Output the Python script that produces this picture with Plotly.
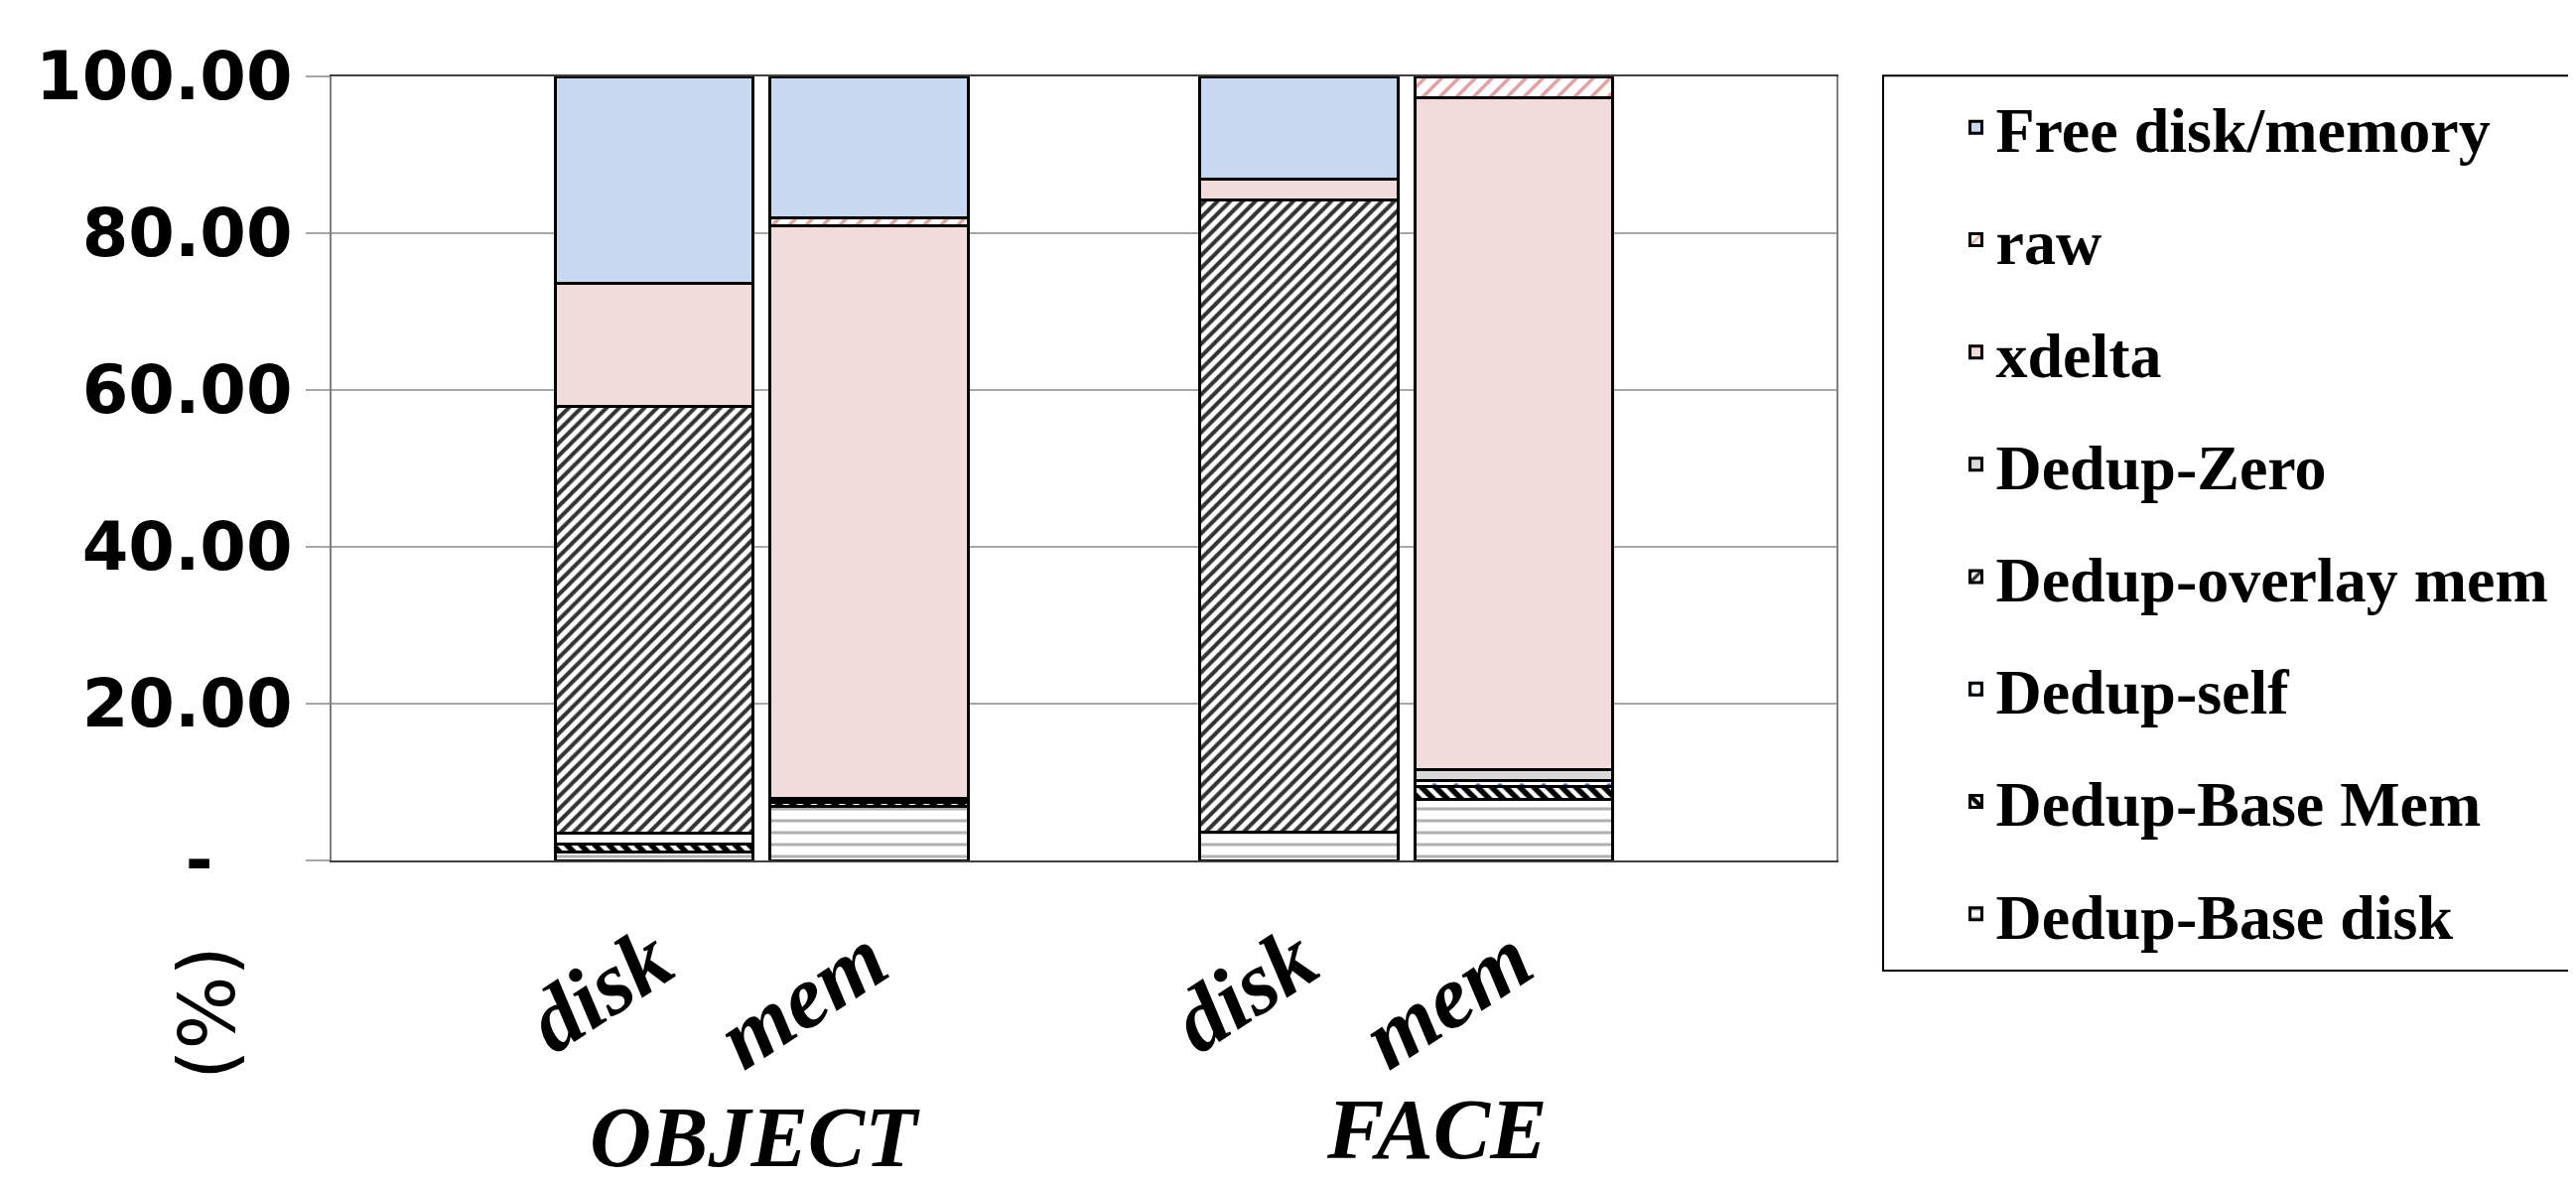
import plotly.graph_objects as go

# ---------------- data ----------------
groups = ["OBJECT", "FACE"]
subcats = ["disk", "mem"]
categories = ["disk", "mem", "disk", "mem"]

series_names = ["Dedup-Base disk", "Dedup-Base Mem", "Dedup-self", "Dedup-overlay mem",
                "Dedup-Zero", "xdelta", "raw", "Free disk/memory"]
# values per bar: OBJECT-disk, OBJECT-mem, FACE-disk, FACE-mem
base_disk   = [1.1, 6.95, 3.6, 7.8]
base_mem    = [1.0, 0.4, 0.0, 1.6]
dedup_self  = [1.4, 0.3, 0.0, 0.75]
overlay_mem = [54.4, 0.0, 80.6, 0.0]
dedup_zero  = [0.0, 0.2, 0.0, 1.45]
xdelta      = [15.7, 73.05, 2.7, 85.7]
raw         = [0.0, 1.1, 0.0, 2.7]
free        = [26.4, 18.0, 13.1, 0.0]
series_values = [base_disk, base_mem, dedup_self, overlay_mem, dedup_zero, xdelta, raw, free]

y_tickvals = [0, 20, 40, 60, 80, 100]
y_ticktext = ["-\u2002\u00a0\u00a0", "20.00", "40.00", "60.00", "80.00", "100.00"]

# ---------------- styles ----------------
styles = {
    "Dedup-Base disk":   dict(shape="-", fg="#B0B0B0", bg="white", size=12, sol=0.25),
    "Dedup-Base Mem":    dict(shape="\\", fg="#000000", bg="white", size=10, sol=0.55),
    "Dedup-self":        dict(shape=".", fg="#4472C4", bg="white", size=22, sol=0.05),
    "Dedup-overlay mem": dict(shape="/", fg="#333333", bg="white", size=9, sol=0.45),
    "Dedup-Zero":        dict(shape="", fg=None, bg="#D9D9D9", size=8, sol=0.3),
    "xdelta":            dict(shape="", fg=None, bg="#F2DCDB", size=8, sol=0.3),
    "raw":               dict(shape="/", fg="#E6A0A0", bg="white", size=12, sol=0.3),
    "Free disk/memory":  dict(shape="", fg=None, bg="#C6D9F0", size=8, sol=0.3),
}

# slot positions: empty slot between groups, like the category axis of the original
x_pos = []
for gi, g in enumerate(groups):
    for si, s in enumerate(subcats):
        x_pos.append(1 + gi * (len(subcats) + 1) + si)

fig = go.Figure()
n = len(series_names)
for i, (name, vals) in enumerate(zip(series_names, series_values)):
    st = styles[name]
    if st["shape"]:
        marker = dict(color=st["bg"],
                      pattern=dict(shape=st["shape"], fgcolor=st["fg"], bgcolor=st["bg"],
                                   size=st["size"], solidity=st["sol"], fillmode="replace"),
                      line=dict(color="black", width=3))
    else:
        marker = dict(color=st["bg"], line=dict(color="black", width=3))
    fig.add_trace(go.Bar(x=x_pos, y=vals, name=name, marker=marker, width=0.92,
                         legendgroup=name, legendrank=n - i))

serif = "Liberation Serif"
fig.update_layout(
    width=2595, height=1191,
    barmode="stack",
    plot_bgcolor="white", paper_bgcolor="white",
    margin=dict(l=326, r=753, t=69, b=332),
    xaxis=dict(range=[-0.5, 6.5], tickvals=x_pos, ticktext=categories,
               tickangle=-33, ticks="", showgrid=False,
               tickfont=dict(family=serif, size=90, color="black", weight="bold", style="italic"),
               showline=True, linecolor="#404040", linewidth=2, mirror=True,
               ticklabelstandoff=12),
    yaxis=dict(range=[0, 100], tickvals=y_tickvals, ticktext=y_ticktext,
               tickfont=dict(family="DejaVu Sans", size=67, color="black", weight="bold"),
               showgrid=True, gridcolor="#A6A6A6", gridwidth=2,
               ticks="outside", ticklen=24, tickcolor="#A6A6A6", tickwidth=2,
               showline=True, linecolor="#808080", linewidth=2, mirror=True,
               zeroline=False),
    legend=dict(x=1.03, y=0.996, xanchor="left", yanchor="top",
                traceorder="grouped", tracegroupgap=27,
                font=dict(family=serif, size=64, color="black", weight="bold"),
                borderwidth=0, bgcolor="rgba(0,0,0,0)",
                indentation=75, maxheight=1000),
    showlegend=True,
)

# legend frame (extends past the right edge, as in the original)
fig.add_shape(type="rect", xref="paper", yref="paper",
              x0=1.031, x1=1.52, y0=-0.1405, y1=1.001,
              line=dict(color="black", width=2), fillcolor="rgba(0,0,0,0)", layer="above")

# group labels
label_y = {"OBJECT": -0.353, "FACE": -0.343}
label_dx = {"OBJECT": -0.03, "FACE": 0.14}
for gi, g in enumerate(groups):
    cx = (x_pos[gi * 2] + x_pos[gi * 2 + 1]) / 2 + label_dx[g]
    fig.add_annotation(x=cx, y=label_y[g], xref="x", yref="paper",
                       xanchor="center", yanchor="middle",
                       text=g, showarrow=False,
                       font=dict(family=serif, size=86, color="black", weight="bold", style="italic"))

# axis title "(%)"
fig.add_annotation(x=-0.082, y=-0.194, xref="paper", yref="paper", text="(%)",
                   xanchor="center", yanchor="middle",
                   textangle=-90, showarrow=False,
                   font=dict(family="DejaVu Sans", size=78, color="black"))

fig.write_html("out.html")
